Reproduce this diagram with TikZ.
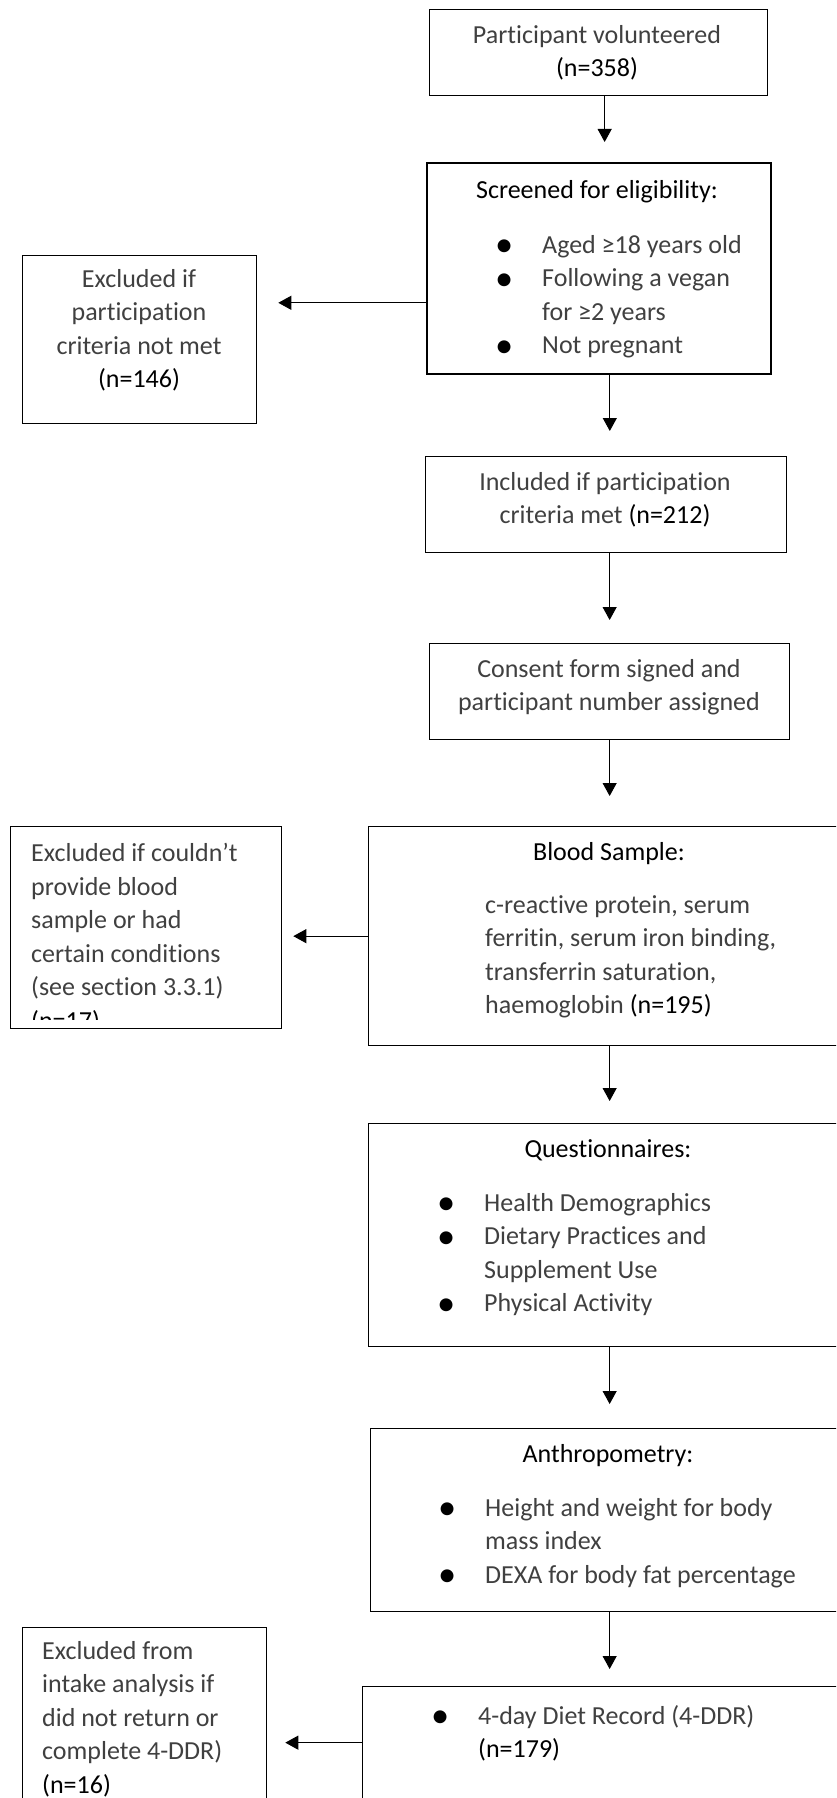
\documentclass[tikz,border=0pt]{standalone}
\usepackage{fontspec}
\setmainfont{Carlito}[Ligatures={NoCommon}]
\usetikzlibrary{positioning,arrows.meta}

\newcommand{\ncount}[1]{\textcolor{black}{#1}}
\newcommand{\itm}{\makebox[47pt][l]{\smash{\textcolor{black}{\raisebox{-3.5pt}{\scalebox{1.4}{\textbullet}}}}}}
\newcommand{\cnt}{\hspace*{47pt}}

\tikzset{
  box/.style={draw, line width=1.3pt, anchor=north west, inner sep=0pt},
  txt/.style={inner sep=0pt, text=black!75, font=\fontsize{26}{33.5}\selectfont},
  hd/.style={txt, text=black, anchor=north},
  flow/.style={line width=1pt, -{Triangle[length=13pt,width=14pt]}}
}

\begin{document}
\begin{tikzpicture}[x=1pt,y=-1pt]
\path[use as bounding box, clip] (0,0) rectangle (836,1798);

% boxes
\node[box, minimum width=338pt, minimum height=86pt] (vol) at (429,9) {};
\node[box, minimum width=344pt, minimum height=211pt, line width=1.6pt] (screen) at (426,162) {};
\node[box, minimum width=234pt, minimum height=168pt] (exc1) at (22,255) {};
\node[box, minimum width=361pt, minimum height=96pt] (incl) at (425,456) {};
\node[box, minimum width=360pt, minimum height=96pt] (cons) at (429,643) {};
\node[box, minimum width=480pt, minimum height=219pt] (blood) at (368,826) {};
\node[box, minimum width=271pt, minimum height=202pt] (exc2) at (10,826) {};
\node[box, minimum width=480pt, minimum height=223pt] (quest) at (368,1123) {};
\node[box, minimum width=478pt, minimum height=183pt] (anth) at (370,1428) {};
\node[box, minimum width=486pt, minimum height=160pt] (diet) at (362,1686) {};
\node[box, minimum width=244pt, minimum height=200pt] (exc3) at (22,1627) {};

% texts
\node[txt, anchor=north, align=center] (voltx) at (597,25) {Participant volunteered\\\ncount{(n=358)}};
\node[hd] (screenhd) at (597,180) {Screened for eligibility:};
\node[txt, anchor=north west, align=left] (screenls) at (495,235)
  {\itm Aged ≥18 years old\\\itm Following a vegan\\\cnt for ≥2 years\\\itm Not pregnant};
\node[txt, anchor=north, align=center] (exc1tx) at (139,269)
  {Excluded if\\participation\\criteria not met\\\ncount{(n=146)}};
\node[txt, anchor=north, align=center] (incltx) at (605,472)
  {Included if participation\\criteria met \ncount{(n=212)}};
\node[txt, anchor=north, align=center] (constx) at (609,659)
  {Consent form signed and\\participant number assigned};
\node[hd] (bloodhd) at (609,842) {Blood Sample:};
\node[txt, anchor=north west, align=left] (bloodls) at (485,895)
  {c-reactive protein, serum\\ferritin, serum iron binding,\\transferrin saturation,\\haemoglobin \ncount{(n=195)}};
\begin{scope}
\clip (exc2.north west) rectangle ([yshift=10pt]exc2.south east);
\node[txt, anchor=north west, align=left] (exc2tx) at (31,843)
  {Excluded if couldn’t\\provide blood\\sample or had\\certain conditions\\(see section 3.3.1)\\\ncount{(n=17)}};
\end{scope}
\node[hd] (questhd) at (608,1139) {Questionnaires:};
\node[txt, anchor=north west, align=left] (questls) at (437,1193)
  {\itm Health Demographics\\\itm Dietary Practices and\\\cnt Supplement Use\\\itm Physical Activity};
\node[hd] (anthhd) at (608,1444) {Anthropometry:};
\node[txt, anchor=north west, align=left] (anthls) at (438,1498)
  {\itm Height and weight for body\\\cnt mass index\\\itm DEXA for body fat percentage};
\node[txt, anchor=north west, align=left] (dietls) at (431,1705)
  {\itm 4-day Diet Record (4-DDR)\\\cnt\ncount{(n=179)}};
\node[txt, anchor=north west, align=left] (exc3tx) at (42,1641)
  {Excluded from\\intake analysis if\\did not return or\\complete 4-DDR)\\\ncount{(n=16)}};

% main flow
\draw[flow, shorten >=20pt] ([xshift=6pt]vol.south) -- ([xshift=6pt]vol.south |- screen.north);
\draw[flow, shorten >=25pt] ([xshift=11pt]screen.south) -- ([xshift=11pt]screen.south |- incl.north);
\draw[flow, shorten >=23pt] ([xshift=3.5pt]incl.south) -- ([xshift=3.5pt]incl.south |- cons.north);
\draw[flow, shorten >=30pt] (cons.south) -- (cons.south |- blood.north);
\draw[flow, shorten >=22pt] ([xshift=1pt]blood.south) -- ([xshift=1pt]blood.south |- quest.north);
\draw[flow, shorten >=24pt] ([xshift=1pt]quest.south) -- ([xshift=1pt]quest.south |- anth.north);
\draw[flow, shorten >=17pt] (anth.south) -- (anth.south |- diet.north);

% exclusions
\coordinate (scrout) at ([yshift=-34.5pt]screen.west);
\coordinate (dietout) at ([yshift=24pt]diet.west);
\draw[flow, shorten >=21pt] (scrout) -- (scrout -| exc1.east);
\draw[flow, shorten >=11pt] (blood.west) -- (blood.west -| exc2.east);
\draw[flow, shorten >=18pt] (dietout) -- (dietout -| exc3.east);
\end{tikzpicture}
\end{document}
